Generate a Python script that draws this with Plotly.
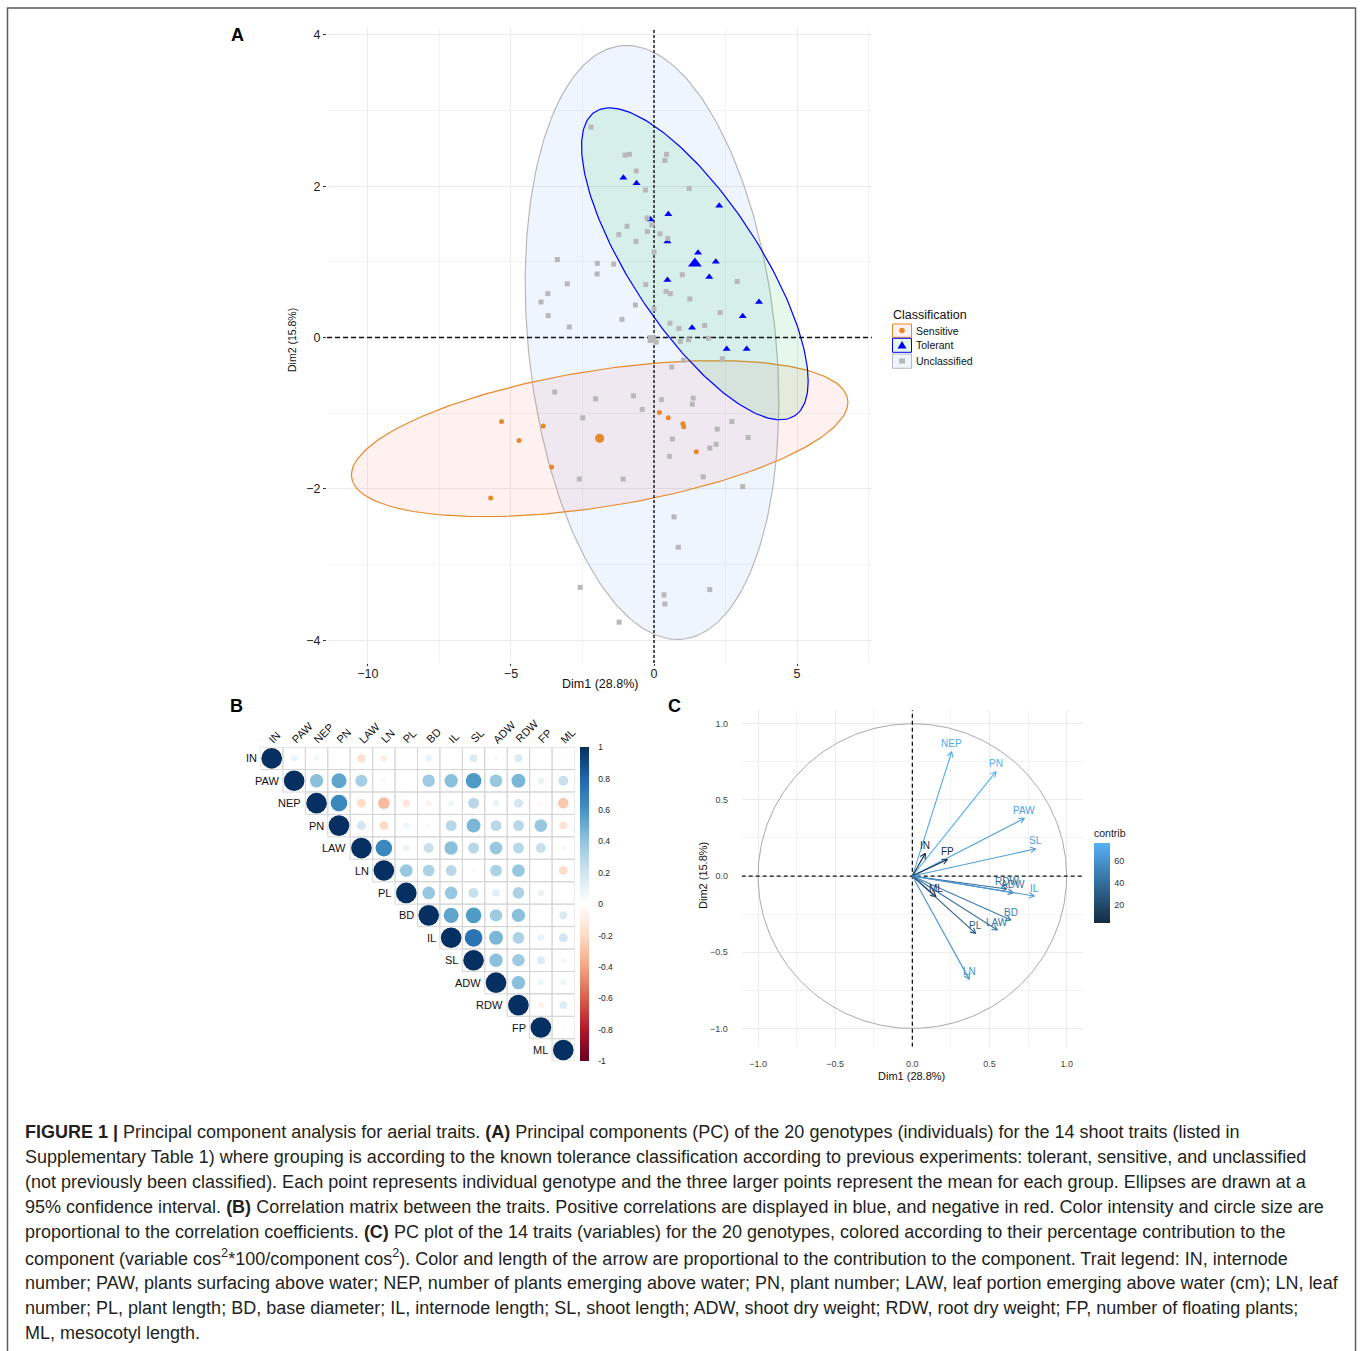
import numpy as np
import plotly.graph_objects as go

W, H = 1360, 1351


def fx(p):
    return p / W


def fy(p):
    return 1 - p / H


# ---------------- Panel A data (PCA individuals) ----------------
groups = ["Sensitive", "Tolerant", "Unclassified"]
sens_x = [-5.33, -4.72, -3.87, -3.58, -5.71, 0.19, 0.50, 1.01, 1.04, 1.48]
sens_y = [-1.11, -1.36, -1.17, -1.71, -2.12, -0.99, -1.06, -1.14, -1.18, -1.51]
tol_x = [-1.07, -0.61, -0.12, 0.50, 2.28, 0.47, 1.54, 2.16, 1.93, 0.47, 3.67, 3.10, 1.33, 2.54, 3.24]
tol_y = [2.11, 2.04, 1.56, 1.63, 1.74, 1.27, 1.12, 1.00, 0.80, 0.76, 0.47, 0.28, 0.13, -0.15, -0.15]
unc_x = [-2.20, -1.01, -0.86, 0.44, 0.38, -0.62, -0.30, 1.23, -0.24, -0.08, -0.94, -1.23, -0.23,
         0.21, 0.48, -0.63, 0.00, -3.38, -1.98, -1.41, -1.99, 0.99, 2.91, -3.03, -0.29, -3.71,
         -3.95, 0.42, 0.57, 1.25, -3.70, -2.96, -0.65, 0.00, 2.31, -1.12, 0.56, 0.87, 1.77, 1.90,
         1.21, 0.92, 0.08, 2.39, 1.03, 0.62, -3.47, -2.04, -0.72, 0.26, 1.37, 1.34, -0.41, -2.49,
         2.72, 2.21, 3.29, 0.64, 2.17, 1.95, 0.54, 1.72, -2.61, -1.08, 3.10, 0.70, 0.85, -2.58,
         0.35, 0.38, 1.95, -1.22]
unc_y = [2.78, 2.41, 2.42, 2.42, 2.34, 2.20, 1.95, 1.97, 1.58, 1.49, 1.47, 1.36, 1.40,
         1.37, 1.31, 1.27, 1.13, 1.03, 0.98, 0.97, 0.84, 0.83, 0.74, 0.71, 0.70, 0.58,
         0.47, 0.61, 0.58, 0.51, 0.29, 0.14, 0.43, 0.38, 0.33, 0.24, 0.19, 0.12, 0.16, -0.01,
         -0.03, -0.05, -0.06, -0.28, -0.30, -0.39, -0.72, -0.81, -0.77, -0.82, -0.80, -0.88, -0.95, -1.06,
         -1.11, -1.21, -1.32, -1.34, -1.41, -1.46, -1.57, -1.84, -1.87, -1.87, -1.97, -2.37, -2.77, -3.30,
         -3.40, -3.52, -3.33, -3.76]
mean_x = [-1.90, 1.43, -0.08]
mean_y = [-1.33, 0.98, -0.02]

# ---------------- Panel B data (correlation matrix, upper triangle rows) ----------------
traits = ["IN", "PAW", "NEP", "PN", "LAW", "LN", "PL", "BD", "IL", "SL", "ADW", "RDW", "FP", "ML"]
corr_rows = [
    [1, 0.10, 0.06, 0.02, -0.16, -0.10, 0.02, 0.10, 0.01, 0.15, 0.04, 0.15, -0.02, -0.02],
    [1, 0.42, 0.53, 0.34, 0.04, 0.02, 0.36, 0.42, 0.57, 0.38, 0.46, 0.10, 0.23],
    [1, 0.65, -0.19, -0.32, -0.13, -0.08, 0.08, 0.28, 0.10, 0.19, -0.05, -0.27],
    [1, 0.19, -0.19, 0.08, 0.05, 0.28, 0.46, 0.28, 0.28, 0.38, -0.15],
    [1, 0.65, 0.10, 0.23, 0.42, 0.28, 0.38, 0.28, 0.23, 0.04],
    [1, 0.38, 0.32, 0.28, 0.03, 0.32, 0.38, -0.02, -0.19],
    [1, 0.38, 0.38, 0.23, 0.13, 0.32, 0.10, -0.01],
    [1, 0.53, 0.57, 0.36, 0.42, 0.02, 0.16],
    [1, 0.74, 0.46, 0.32, 0.10, 0.19],
    [1, 0.42, 0.36, 0.15, 0.06],
    [1, 0.42, 0.08, 0.08],
    [1, -0.08, 0.15],
    [1, -0.03],
    [1],
]
corr_ticks = [1, 0.8, 0.6, 0.4, 0.2, 0, -0.2, -0.4, -0.6, -0.8, -1]

# ---------------- Panel C data (PCA variables) ----------------
var_names = ["NEP", "PN", "PAW", "SL", "IN", "FP", "RDW", "ADW", "IL", "ML", "BD", "LAW", "PL", "LN"]
var_dim1 = [0.255, 0.542, 0.726, 0.799, 0.084, 0.227, 0.611, 0.654, 0.790, 0.153, 0.639, 0.551, 0.410, 0.369]
var_dim2 = [0.816, 0.685, 0.379, 0.179, 0.149, 0.109, -0.085, -0.109, -0.131, -0.136, -0.289, -0.354, -0.376, -0.678]
var_contrib = [73.0, 76.7, 67.0, 67.0, 3.6, 6.3, 38.0, 44.0, 64.0, 4.2, 49.0, 43.0, 31.0, 60.0]
contrib_ticks = [20, 40, 60]

# ---------------- styles ----------------
FONT = "Liberation Sans, Arial, Helvetica, sans-serif"
line_cols = {"Sensitive": "#E5892B", "Tolerant": "#0000FF", "Unclassified": "#B8B8B8"}
fill_cols = {"Sensitive": "rgba(248,118,109,0.10)", "Tolerant": "rgba(0,186,56,0.10)",
             "Unclassified": "rgba(97,156,255,0.10)"}
key_fill = {"Sensitive": "#FEF1F0", "Tolerant": "#E5F8EB", "Unclassified": "#EFF5FF"}
symbols = {"Sensitive": "circle", "Tolerant": "triangle-up", "Unclassified": "square"}
pt_size = {"Sensitive": 5, "Tolerant": 7, "Unclassified": 5}
mean_size = {"Sensitive": 9, "Tolerant": 12, "Unclassified": 8}

rdbu = ["#67001F", "#B2182B", "#D6604D", "#F4A582", "#FDDBC7", "#FFFFFF",
        "#D1E5F0", "#92C5DE", "#4393C3", "#2166AC", "#053061"]
rdbu_scale = [[i / 10, c] for i, c in enumerate(rdbu)]
low_c, high_c = (0x13, 0x2B, 0x43), (0x56, 0xB1, 0xF7)

# pixel layout
A_x0, A_x1, A_y0, A_y1 = 327, 872, 28, 663
A_xr, A_yr = [-11.43, 7.62], [-4.30, 4.09]
B_x0, B_x1, B_y0, B_y1 = 260.5, 574.5, 747.1, 1061.2
C_x0, C_x1, C_y0, C_y1 = 741.7, 1082.7, 710.0, 1046.7
C_xr, C_yr = [-1.106, 1.104], [-1.12, 1.09]


def norm_ellipse(x, y, level=0.95, npts=240):
    x = np.asarray(x, float)
    y = np.asarray(y, float)
    n = len(x)
    cov = np.cov(np.vstack([x, y]))
    d = n - 1
    fq = (d / 2.0) * ((1 - level) ** (-2.0 / d) - 1)
    r = np.sqrt(2 * fq)
    t = np.linspace(0, 2 * np.pi, npts)
    circ = np.column_stack([np.cos(t), np.sin(t)])
    L = np.linalg.cholesky(cov)
    pts = circ @ L.T * r
    return (x.mean() + pts[:, 0]).tolist(), (y.mean() + pts[:, 1]).tolist()


fig = go.Figure()

# ---------------- Panel A ----------------
data = {"Sensitive": (sens_x, sens_y), "Tolerant": (tol_x, tol_y), "Unclassified": (unc_x, unc_y)}
for g in ["Unclassified", "Sensitive", "Tolerant"]:
    ex, ey = norm_ellipse(*data[g])
    fig.add_trace(go.Scatter(x=ex, y=ey, mode="lines", fill="toself", fillcolor=fill_cols[g],
                             line=dict(color=line_cols[g], width=1.2), hoverinfo="skip",
                             showlegend=False, xaxis="x", yaxis="y"))
fig.add_trace(go.Scatter(x=[0, 0], y=A_yr, mode="lines", line=dict(color="#111", width=1.4, dash="3px,2px"),
                         hoverinfo="skip", showlegend=False, xaxis="x", yaxis="y"))
fig.add_trace(go.Scatter(x=A_xr, y=[0, 0], mode="lines", line=dict(color="#111", width=1.4, dash="5px,3px"),
                         hoverinfo="skip", showlegend=False, xaxis="x", yaxis="y"))
for g in groups:
    gx, gy = data[g]
    fig.add_trace(go.Scatter(x=gx, y=gy, mode="markers", name=g, showlegend=False,
                             marker=dict(symbol=symbols[g], size=pt_size[g], color=line_cols[g],
                                         opacity=1, line=dict(width=0)), xaxis="x", yaxis="y"))
for gi, g in enumerate(groups):
    fig.add_trace(go.Scatter(x=[mean_x[gi]], y=[mean_y[gi]], mode="markers", showlegend=False,
                             marker=dict(symbol=symbols[g], size=mean_size[g], color=line_cols[g],
                                         opacity=1, line=dict(width=0)), xaxis="x", yaxis="y"))

# ---------------- Panel B ----------------
bx, by, bv = [], [], []
for i, row in enumerate(corr_rows):
    for k, v in enumerate(row):
        bx.append(i + k)
        by.append(i)
        bv.append(v)
cell_px = (B_x1 - B_x0) / len(traits)
bsize = [float(0.92 * cell_px * np.sqrt(abs(v))) for v in bv]
fig.add_trace(go.Scatter(
    x=bx, y=by, mode="markers", showlegend=False, xaxis="x3", yaxis="y3",
    marker=dict(size=bsize, color=bv, colorscale=rdbu_scale, cmin=-1, cmax=1, line=dict(width=0),
                opacity=1, showscale=True,
                colorbar=dict(x=fx(580), xanchor="left", xpad=0, ypad=0,
                              y=fy((B_y0 + B_y1) / 2), yanchor="middle", lenmode="pixels",
                              len=B_y1 - B_y0, thickness=9, outlinewidth=0,
                              tickvals=corr_ticks, ticktext=[str(t) for t in corr_ticks],
                              ticks="outside", ticklen=8, tickcolor="rgba(0,0,0,0)",
                              tickfont=dict(family=FONT, size=8.5, color="#222")))))

# ---------------- Panel C ----------------
def contrib_color(v):
    lo, hi = min(var_contrib), max(var_contrib)
    t = (v - lo) / (hi - lo)
    c = [round(a + (b - a) * t) for a, b in zip(low_c, high_c)]
    return "rgb(%d,%d,%d)" % tuple(c)


th = np.linspace(0, 2 * np.pi, 361)
fig.add_trace(go.Scatter(x=np.cos(th).tolist(), y=np.sin(th).tolist(), mode="lines",
                         line=dict(color="#A9A9A9", width=1),
                         hoverinfo="skip", showlegend=False, xaxis="x2", yaxis="y2"))
fig.add_trace(go.Scatter(x=[0, 0], y=C_yr, mode="lines", line=dict(color="#111", width=1.3, dash="4px,3px"),
                         hoverinfo="skip", showlegend=False, xaxis="x2", yaxis="y2"))
fig.add_trace(go.Scatter(x=C_xr, y=[0, 0], mode="lines", line=dict(color="#111", width=1.3, dash="4px,3px"),
                         hoverinfo="skip", showlegend=False, xaxis="x2", yaxis="y2"))
sx = (C_x1 - C_x0) / (C_xr[1] - C_xr[0])
sy = (C_y1 - C_y0) / (C_yr[1] - C_yr[0])
head_px, ang = 6.0, np.deg2rad(28)
for name, vx, vy, vc in zip(var_names, var_dim1, var_dim2, var_contrib):
    col = contrib_color(vc)
    dpx, dpy = vx * sx, vy * sy
    nrm = np.hypot(dpx, dpy)
    ux, uy = dpx / nrm, dpy / nrm
    hx, hy = [], []
    for s in (ang, -ang):
        rx = -(ux * np.cos(s) - uy * np.sin(s)) * head_px
        ry = -(ux * np.sin(s) + uy * np.cos(s)) * head_px
        hx.append(float(vx + rx / sx))
        hy.append(float(vy + ry / sy))
    fig.add_trace(go.Scatter(x=[0, vx, None, hx[0], vx, hx[1]], y=[0, vy, None, hy[0], vy, hy[1]],
                             mode="lines", line=dict(color=col, width=1.1), hoverinfo="skip",
                             showlegend=False, xaxis="x2", yaxis="y2"))
    fig.add_annotation(x=vx, y=vy, xref="x2", yref="y2", text=name, showarrow=False, yshift=8,
                       font=dict(family=FONT, size=10, color=col))
fig.add_trace(go.Scatter(
    x=var_dim1, y=var_dim2, mode="markers", showlegend=False, hoverinfo="skip", xaxis="x2", yaxis="y2",
    marker=dict(size=1, opacity=0, color=var_contrib,
                colorscale=[[0, "#132B43"], [1, "#56B1F7"]], cmin=min(var_contrib), cmax=max(var_contrib),
                showscale=True,
                colorbar=dict(x=fx(1094), xanchor="left", xpad=0, ypad=0, y=fy(923), yanchor="bottom",
                              lenmode="pixels", len=97, thickness=16, outlinewidth=0,
                              tickvals=contrib_ticks, ticks="outside", ticklen=3, tickcolor="#FFFFFF",
                              tickfont=dict(family=FONT, size=9, color="#333"),
                              title=dict(text="contrib", side="top",
                                         font=dict(family=FONT, size=10.5, color="#222"))))))

# ---------------- legend for A (drawn as shapes + text) ----------------
leg_rows = [(324, 337.3, 330.5), (338.3, 352.3, 345.3), (354, 368.3, 361)]
for g, (t0, t1, tc) in zip(groups, leg_rows):
    fig.add_shape(type="rect", xref="paper", yref="paper", x0=fx(892.5), x1=fx(911.5),
                  y0=fy(t1), y1=fy(t0), line=dict(color=line_cols[g], width=1), fillcolor=key_fill[g])
    cx, cy = 902, tc
    if symbols[g] == "circle":
        fig.add_shape(type="circle", xref="paper", yref="paper", x0=fx(cx - 2.8), x1=fx(cx + 2.8),
                      y0=fy(cy + 2.8), y1=fy(cy - 2.8), line=dict(width=0), fillcolor=line_cols[g])
    elif symbols[g] == "triangle-up":
        path = "M %f %f L %f %f L %f %f Z" % (fx(cx - 4.5), fy(cy + 3.2), fx(cx + 4.5), fy(cy + 3.2),
                                             fx(cx), fy(cy - 4.3))
        fig.add_shape(type="path", xref="paper", yref="paper", path=path, line=dict(width=0),
                      fillcolor=line_cols[g])
    else:
        fig.add_shape(type="rect", xref="paper", yref="paper", x0=fx(cx - 3), x1=fx(cx + 3),
                      y0=fy(cy + 2.6), y1=fy(cy - 2.6), line=dict(width=0), fillcolor=line_cols[g])
    fig.add_annotation(xref="paper", yref="paper", x=fx(914), y=fy(tc), text=g, showarrow=False,
                       xanchor="left", yanchor="middle", font=dict(family=FONT, size=10.5, color="#111"))
fig.add_annotation(xref="paper", yref="paper", x=fx(891), y=fy(315), text="Classification",
                   showarrow=False, xanchor="left", yanchor="middle",
                   font=dict(family=FONT, size=12.5, color="#111"))

# correlation cell grid
n = len(traits)
for i in range(n):
    for j in range(i, n):
        fig.add_shape(type="rect", xref="x3", yref="y3", x0=j - 0.5, x1=j + 0.5, y0=i - 0.5, y1=i + 0.5,
                      line=dict(color="#D6D6D6", width=1), fillcolor="rgba(0,0,0,0)", layer="below")
for i, t in enumerate(traits):
    fig.add_annotation(x=i - 0.5, y=i, xref="x3", yref="y3", text=t, showarrow=False, xanchor="right",
                       yanchor="middle", xshift=-2, font=dict(family=FONT, size=11, color="#111"))
    fig.add_annotation(x=i, y=-0.5, xref="x3", yref="y3", text=t, showarrow=False, xanchor="left",
                       yanchor="bottom", textangle=-45, xshift=-8, yshift=-1,
                       font=dict(family=FONT, size=11, color="#111"))

# frame
fig.add_shape(type="rect", xref="paper", yref="paper", x0=fx(7.5), x1=fx(1355.5), y0=-0.02, y1=fy(8),
              line=dict(color="#5C5C5C", width=1.5), fillcolor="rgba(0,0,0,0)")

# panel letters
for lab, px, py in (("A", 237, 35), ("B", 236, 706), ("C", 674, 706)):
    fig.add_annotation(xref="paper", yref="paper", x=fx(px), y=fy(py), text="<b>%s</b>" % lab,
                       showarrow=False, xanchor="center", yanchor="middle",
                       font=dict(family=FONT, size=18, color="#000"))

# axis titles
ax_titles = [
    ("Dim1 (28.8%)", (A_x0 + A_x1) / 2, 684, 0, 12.5),
    ("Dim2 (15.8%)", 292, 340, -90, 10.5),
    ("Dim1 (28.8%)", 912, 1076, 0, 11),
    ("Dim2 (15.8%)", 703, 876, -90, 11),
]
for txt, px, py, ang_t, fs in ax_titles:
    fig.add_annotation(xref="paper", yref="paper", x=fx(px), y=fy(py), text=txt, showarrow=False,
                       textangle=ang_t, xanchor="center", yanchor="middle",
                       font=dict(family=FONT, size=fs, color="#111"))

# caption
caption = [
    "<b>FIGURE 1 |</b> Principal component analysis for aerial traits. <b>(A)</b> Principal components (PC) of the 20 genotypes (individuals) for the 14 shoot traits (listed in",
    "Supplementary Table 1) where grouping is according to the known tolerance classification according to previous experiments: tolerant, sensitive, and unclassified",
    "(not previously been classified). Each point represents individual genotype and the three larger points represent the mean for each group. Ellipses are drawn at a",
    "95% confidence interval. <b>(B)</b> Correlation matrix between the traits. Positive correlations are displayed in blue, and negative in red. Color intensity and circle size are",
    "proportional to the correlation coefficients. <b>(C)</b> PC plot of the 14 traits (variables) for the 20 genotypes, colored according to their percentage contribution to the",
    "component (variable cos<sup>2</sup>*100/component cos<sup>2</sup>). Color and length of the arrow are proportional to the contribution to the component. Trait legend: IN, internode",
    "number; PAW, plants surfacing above water; NEP, number of plants emerging above water; PN, plant number; LAW, leaf portion emerging above water (cm); LN, leaf",
    "number; PL, plant length; BD, base diameter; IL, internode length; SL, shoot length; ADW, shoot dry weight; RDW, root dry weight; FP, number of floating plants;",
    "ML, mesocotyl length.",
]
for k, line in enumerate(caption):
    fig.add_annotation(xref="paper", yref="paper", x=fx(23), y=fy(1132 + 25.1 * k), text=line,
                       showarrow=False, xanchor="left", yanchor="middle",
                       font=dict(family=FONT, size=18, color="#231F20"))

grid_major = "#EBEBEB"
grid_minor = "#F3F3F3"
fig.update_layout(
    width=W, height=H, margin=dict(l=0, r=0, t=0, b=0), paper_bgcolor="white",
    plot_bgcolor="rgba(0,0,0,0)",
    showlegend=False,
    xaxis=dict(domain=[fx(A_x0), fx(A_x1)], range=A_xr, anchor="y", tickvals=[-10, -5, 0, 5],
               showgrid=True, gridcolor=grid_major, gridwidth=1, zeroline=False, showline=False,
               ticks="outside", ticklen=2, tickcolor="#333", tickwidth=1, ticklabelstandoff=-3,
               tickfont=dict(family=FONT, size=12.5, color="#222"),
               minor=dict(dtick=2.5, tick0=0, showgrid=True, gridcolor=grid_minor)),
    yaxis=dict(domain=[fy(A_y1), fy(A_y0)], range=A_yr, anchor="x", tickvals=[-4, -2, 0, 2, 4],
               showgrid=True, gridcolor=grid_major, gridwidth=1, zeroline=False, showline=False,
               ticks="outside", ticklen=3, tickcolor="#333", tickwidth=1,
               tickfont=dict(family=FONT, size=12.5, color="#222"),
               minor=dict(dtick=1, tick0=0, showgrid=True, gridcolor=grid_minor)),
    xaxis2=dict(domain=[fx(C_x0), fx(C_x1)], range=C_xr, anchor="y2", dtick=0.5, tick0=0, tickformat=".1f",
                showgrid=True, gridcolor=grid_major, zeroline=False, showline=False,
                ticks="outside", ticklen=8, tickcolor="rgba(0,0,0,0)",
                tickfont=dict(family=FONT, size=9, color="#444"),
                minor=dict(dtick=0.25, tick0=0, showgrid=True, gridcolor=grid_minor)),
    yaxis2=dict(domain=[fy(C_y1), fy(C_y0)], range=C_yr, anchor="x2", dtick=0.5, tick0=0, tickformat=".1f",
                showgrid=True, gridcolor=grid_major, zeroline=False, showline=False,
                ticks="outside", ticklen=11, tickcolor="rgba(0,0,0,0)",
                tickfont=dict(family=FONT, size=9, color="#444"),
                minor=dict(dtick=0.25, tick0=0, showgrid=True, gridcolor=grid_minor)),
    xaxis3=dict(domain=[fx(B_x0), fx(B_x1)], range=[-0.5, n - 0.5], anchor="y3", visible=False),
    yaxis3=dict(domain=[fy(B_y1), fy(B_y0)], range=[n - 0.5, -0.5], anchor="x3", visible=False),
)

fig.write_html("out.html")
